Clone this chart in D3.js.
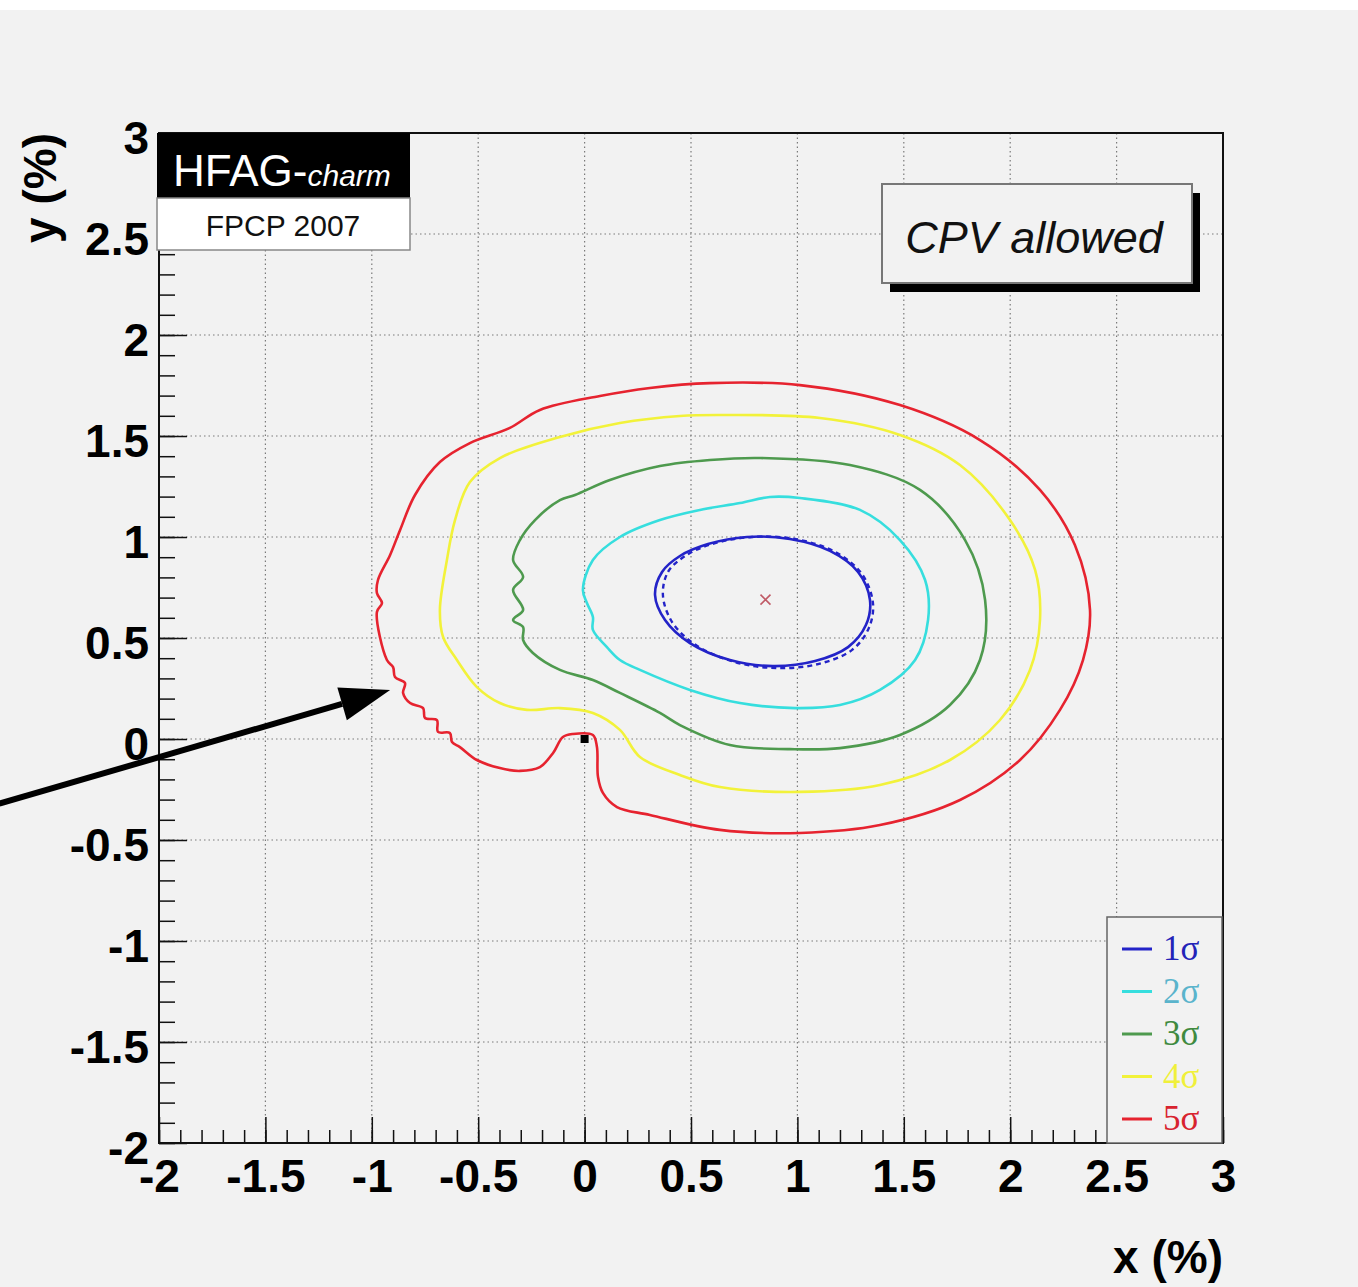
<!DOCTYPE html>
<html>
<head>
<meta charset="utf-8">
<script src="https://cdn.jsdelivr.net/npm/d3@7"></script>
<style>
  body { margin: 0; background: #f2f2f2; }
  svg { display: block; }
</style>
</head>
<body>
<div id="chart"></div>
<script>
(function() {

  'use strict'

  // axis ticks
  var xTicks = [-2, -1.5, -1, -0.5, 0, 0.5, 1, 1.5, 2, 2.5, 3];
  var yTicks = [-2, -1.5, -1, -0.5, 0, 0.5, 1, 1.5, 2, 2.5, 3];
  var xMinor = d3.range(-20, 31).map(function(d) { return d / 10; });
  var yMinor = d3.range(-20, 31).map(function(d) { return d / 10; });

  // contours, [x, y] in %
  var sigma1 = [[0.331,0.713],[0.364,0.827],[0.448,0.906],[0.580,0.965],[0.763,1.000],[0.965,0.990],
    [1.153,0.931],[1.285,0.827],[1.341,0.688],[1.322,0.564],[1.238,0.455],[1.083,0.386],[0.885,0.361],
    [0.683,0.391],[0.495,0.475],[0.378,0.589]];
  var sigma1Alt = [[0.368,0.713],[0.392,0.827],[0.472,0.906],[0.598,0.965],[0.787,1.000],[0.989,0.990],
    [1.177,0.926],[1.303,0.817],[1.355,0.673],[1.336,0.550],[1.257,0.441],[1.097,0.371],[0.904,0.351],
    [0.706,0.381],[0.523,0.465],[0.411,0.579]];
  var sigma2 = [[0.871,1.198],[1.012,1.193],[1.294,1.134],[1.482,0.985],[1.600,0.787],[1.614,0.589],
    [1.553,0.391],[1.388,0.243],[1.200,0.168],[0.989,0.153],[0.730,0.178],[0.495,0.243],[0.260,0.342],
    [0.166,0.391],[0.105,0.455],[0.039,0.540],[0.039,0.604],[0.011,0.673],[-0.008,0.738],[0.039,0.886],
    [0.166,1.000],[0.354,1.084],[0.542,1.134],[0.730,1.168]];
  var sigma3 = [[0.824,1.391],[1.247,1.356],[1.576,1.233],[1.788,0.985],[1.882,0.688],[1.858,0.391],
    [1.717,0.168],[1.482,0.020],[1.200,-0.045],[0.965,-0.050],[0.683,-0.030],[0.448,0.069],[0.354,0.129],
    [0.166,0.228],[0.039,0.292],[-0.116,0.342],[-0.243,0.426],[-0.289,0.490],[-0.289,0.554],[-0.336,0.589],
    [-0.289,0.639],[-0.336,0.738],[-0.289,0.802],[-0.336,0.886],[-0.304,0.985],[-0.233,1.084],[-0.116,1.183],
    [-0.045,1.208],[0.119,1.282],[0.354,1.351],[0.589,1.381]];
  var sigma4 = [[0.636,1.604],[1.106,1.589],[1.482,1.505],[1.764,1.356],[1.999,1.084],[2.117,0.837],
    [2.140,0.589],[2.093,0.342],[1.952,0.094],[1.717,-0.104],[1.388,-0.228],[1.012,-0.262],[0.636,-0.238],
    [0.448,-0.178],[0.260,-0.089],[0.166,0.045],[0.039,0.129],[-0.116,0.153],[-0.271,0.144],[-0.398,0.178],
    [-0.506,0.257],[-0.600,0.391],[-0.665,0.505],[-0.680,0.639],[-0.647,0.886],[-0.609,1.084],[-0.539,1.272],
    [-0.398,1.391],[-0.116,1.495],[0.166,1.564],[0.448,1.599]];
  var sigma5 = [[0.589,1.762],[1.012,1.752],[1.482,1.653],[1.858,1.480],[2.140,1.233],[2.304,0.960],
    [2.375,0.639],[2.342,0.391],[2.234,0.144],[2.046,-0.104],[1.764,-0.302],[1.388,-0.426],[1.012,-0.465],
    [0.636,-0.450],[0.307,-0.376],[0.152,-0.337],[0.086,-0.267],[0.063,-0.188],[0.058,-0.040],[0.039,0.020],
    [-0.055,0.025],[-0.102,0.010],[-0.148,-0.069],[-0.210,-0.139],[-0.304,-0.158],[-0.398,-0.144],[-0.506,-0.104],
    [-0.586,-0.040],[-0.623,-0.015],[-0.633,0.030],[-0.689,0.035],[-0.694,0.094],[-0.750,0.104],[-0.759,0.153],
    [-0.820,0.178],[-0.853,0.228],[-0.844,0.277],[-0.891,0.307],[-0.900,0.356],[-0.929,0.391],[-0.976,0.629],
    [-0.952,0.673],[-0.976,0.723],[-0.971,0.787],[-0.914,0.911],[-0.867,1.035],[-0.797,1.208],[-0.680,1.371],
    [-0.539,1.465],[-0.351,1.540],[-0.210,1.629],[0.072,1.698],[0.307,1.738]];

  var bestFit = [0.85, 0.69];
  var noMixing = [0, 0];
  var arrowTail = [-2.75, -0.32];
  var arrowTip = [-0.914, 0.243];

  var legendLabels = ['1\u03c3', '2\u03c3', '3\u03c3', '4\u03c3', '5\u03c3'];
  var legendColors = ['#2323c8', '#36dede', '#4e9a4e', '#f2f23a', '#e6232f'];
  var legendTextColors = ['#2323b8', '#5ab4cc', '#3f8a3f', '#f0f03a', '#d8232f'];

  var width = 1358, height = 1287;
  var left = 159, right = 1223, top = 133, bottom = 1143;
  var labelFont = '"Liberation Sans", Arial, sans-serif';

  var x = d3.scaleLinear().domain([-2, 3]).range([left, right]);
  var y = d3.scaleLinear().domain([-2, 3]).range([bottom, top]);

  var svg = d3.select('#chart').append('svg')
    .attr('width', width)
    .attr('height', height);

  svg.append('rect').attr('width', width).attr('height', height).attr('fill', '#f2f2f2');
  svg.append('rect').attr('width', width).attr('height', 10).attr('fill', '#ffffff');

  // grid
  var grid = svg.append('g').attr('stroke', '#7a7a7a').attr('stroke-width', 1.2)
    .attr('stroke-dasharray', '1.5,3');
  grid.selectAll('.gx').data(xTicks.slice(1, -1)).enter().append('line')
    .attr('x1', x).attr('x2', x).attr('y1', top).attr('y2', bottom);
  grid.selectAll('.gy').data(yTicks.slice(1, -1)).enter().append('line')
    .attr('y1', y).attr('y2', y).attr('x1', left).attr('x2', right);

  // contours
  var line = d3.line()
    .x(function(d) { return x(d[0]); })
    .y(function(d) { return y(d[1]); })
    .curve(d3.curveCatmullRomClosed.alpha(0.5));

  var contours = [sigma5, sigma4, sigma3, sigma2, sigma1];
  var contourColors = [legendColors[4], legendColors[3], legendColors[2], legendColors[1], legendColors[0]];

  svg.append('g').selectAll('path').data(contours).enter().append('path')
    .attr('d', line)
    .attr('fill', 'none')
    .attr('stroke', function(d, i) { return contourColors[i]; })
    .attr('stroke-width', 2.6);

  svg.append('path').datum(sigma1Alt)
    .attr('d', line)
    .attr('fill', 'none')
    .attr('stroke', legendColors[0])
    .attr('stroke-width', 2.4)
    .attr('stroke-dasharray', '5,4');

  // best fit cross and no-mixing point
  var bx = x(bestFit[0]), by = y(bestFit[1]);
  svg.append('path')
    .attr('d', 'M' + (bx - 5) + ',' + (by - 5) + 'L' + (bx + 5) + ',' + (by + 5) +
      'M' + (bx - 5) + ',' + (by + 5) + 'L' + (bx + 5) + ',' + (by - 5))
    .attr('stroke', '#c05a66').attr('stroke-width', 1.6);
  svg.append('rect')
    .attr('x', x(noMixing[0]) - 4).attr('y', y(noMixing[1]) - 4)
    .attr('width', 8).attr('height', 8).attr('fill', '#000');

  // axes
  var fmt = function(d) { return String(d); };

  svg.append('g').attr('transform', 'translate(0,' + bottom + ')')
    .call(d3.axisBottom(x).tickValues(xTicks).tickFormat(fmt).tickSizeInner(-26).tickSizeOuter(0).tickPadding(16));
  svg.append('g').attr('transform', 'translate(0,' + bottom + ')')
    .call(d3.axisBottom(x).tickValues(xMinor).tickFormat('').tickSizeInner(-13).tickSizeOuter(0));

  var yAxis = svg.append('g').attr('transform', 'translate(' + left + ',0)')
    .call(d3.axisLeft(y).tickValues(yTicks).tickFormat(fmt).tickSizeInner(-28).tickSizeOuter(0).tickPadding(10));
  svg.append('g').attr('transform', 'translate(' + left + ',0)')
    .call(d3.axisLeft(y).tickValues(yMinor).tickFormat('').tickSizeInner(-16).tickSizeOuter(0));

  svg.selectAll('.domain').remove();
  svg.selectAll('.tick line').attr('stroke', '#111').attr('stroke-width', 1.5);
  svg.selectAll('.tick text')
    .attr('font-family', labelFont)
    .attr('font-weight', 'bold')
    .attr('font-size', '46px')
    .attr('fill', '#000');
  yAxis.selectAll('.tick text').attr('dy', '0.45em');

  // frame
  svg.append('rect')
    .attr('x', left).attr('y', top)
    .attr('width', right - left).attr('height', bottom - top)
    .attr('fill', 'none').attr('stroke', '#111').attr('stroke-width', 2);

  // axis titles
  svg.append('text')
    .attr('x', right).attr('y', 1273)
    .attr('text-anchor', 'end')
    .attr('font-family', labelFont).attr('font-weight', 'bold').attr('font-size', '46px')
    .text('x (%)');
  svg.append('text')
    .attr('transform', 'translate(56,' + top + ') rotate(-90)')
    .attr('text-anchor', 'end')
    .attr('font-family', labelFont).attr('font-weight', 'bold').attr('font-size', '46px')
    .text('y (%)');

  // HFAG logo
  svg.append('rect').attr('x', 157).attr('y', 133).attr('width', 253).attr('height', 65).attr('fill', '#000');
  svg.append('rect').attr('x', 157).attr('y', 198).attr('width', 253).attr('height', 52)
    .attr('fill', '#fff').attr('stroke', '#888').attr('stroke-width', 1.5);
  var logo = svg.append('text').attr('x', 173).attr('y', 186)
    .attr('font-family', labelFont).attr('fill', '#fff');
  logo.append('tspan').attr('font-size', '44px').text('HFAG-');
  logo.append('tspan').attr('font-size', '30px').attr('font-style', 'italic').text('charm');
  svg.append('text').attr('x', 283).attr('y', 236)
    .attr('text-anchor', 'middle')
    .attr('font-family', labelFont).attr('font-size', '30px').attr('fill', '#111')
    .text('FPCP 2007');

  // CPV allowed box
  svg.append('rect').attr('x', 890).attr('y', 193).attr('width', 310).attr('height', 99).attr('fill', '#000');
  svg.append('rect').attr('x', 882).attr('y', 184).attr('width', 310).attr('height', 99)
    .attr('fill', '#f2f2f2').attr('stroke', '#777').attr('stroke-width', 2);
  svg.append('text').attr('x', 1034).attr('y', 253)
    .attr('text-anchor', 'middle')
    .attr('font-family', labelFont).attr('font-style', 'italic').attr('font-size', '45px').attr('fill', '#111')
    .text('CPV allowed');

  // legend
  svg.append('rect').attr('x', 1107).attr('y', 917).attr('width', 115).attr('height', 226)
    .attr('fill', '#f2f2f2').attr('stroke', '#666').attr('stroke-width', 1.5);
  var entry = svg.append('g').selectAll('g').data(legendLabels).enter().append('g')
    .attr('transform', function(d, i) { return 'translate(0,' + (949 + i * 42.5) + ')'; });
  entry.append('line')
    .attr('x1', 1122).attr('x2', 1152)
    .attr('stroke', function(d, i) { return legendColors[i]; })
    .attr('stroke-width', 3);
  entry.append('text')
    .attr('x', 1163).attr('y', 11)
    .attr('font-family', '"Liberation Serif", "Times New Roman", serif')
    .attr('font-size', '35px')
    .attr('fill', function(d, i) { return legendTextColors[i]; })
    .text(String);

  // arrow
  var ax0 = x(arrowTail[0]), ay0 = y(arrowTail[1]);
  var ax1 = x(arrowTip[0]), ay1 = y(arrowTip[1]);
  var ang = Math.atan2(ay1 - ay0, ax1 - ax0);
  var headLen = 50, headHalf = 17;
  var bxh = ax1 - headLen * Math.cos(ang), byh = ay1 - headLen * Math.sin(ang);
  svg.append('line')
    .attr('x1', ax0).attr('y1', ay0).attr('x2', bxh).attr('y2', byh)
    .attr('stroke', '#000').attr('stroke-width', 6);
  svg.append('path')
    .attr('d', 'M' + ax1 + ',' + ay1 +
      'L' + (bxh - headHalf * Math.sin(ang)) + ',' + (byh + headHalf * Math.cos(ang)) +
      'L' + (bxh + headHalf * Math.sin(ang)) + ',' + (byh - headHalf * Math.cos(ang)) + 'Z')
    .attr('fill', '#000');

})();
</script>
</body>
</html>
